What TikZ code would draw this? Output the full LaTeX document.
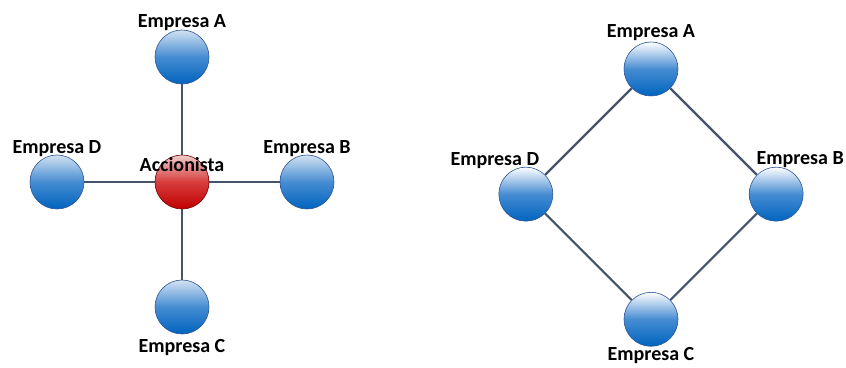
\documentclass[tikz,border=0pt]{standalone}
\usepackage{fontspec}
\setmainfont{Carlito}
\usepackage{tikz}
\usetikzlibrary{positioning,backgrounds,shapes}
\definecolor{lineagris}{RGB}{68,84,106}
\definecolor{bordeazul}{RGB}{47,85,151}
\definecolor{azulclaro}{RGB}{210,226,242}
\definecolor{azulmedio}{RGB}{70,140,210}
\definecolor{azul}{RGB}{0,100,190}
\definecolor{rojoclaro}{RGB}{240,205,205}
\definecolor{rojomedio}{RGB}{215,60,60}
\definecolor{rojo}{RGB}{192,0,0}

\begin{document}
\begin{tikzpicture}[node distance=125pt,
                    every label/.style={inner sep=0pt, font=\bfseries\fontsize{20}{24}\selectfont}]
  \tikzstyle{bola}=[circle, minimum size=54pt, inner sep=0pt, draw=bordeazul, line width=0.6pt,
                    top color=azulclaro, bottom color=azul, middle color=azulmedio]
  \tikzstyle{bolad}=[bola, shading angle=45, top color=white, bottom color=azul, middle color=azulmedio]
  \tikzstyle{socio}=[bola, draw=rojo!60!black, top color=rojoclaro, bottom color=rojo, middle color=rojomedio]
  \tikzstyle{enlace}=[draw=lineagris, line width=2.2pt]

  \useasboundingbox (0,0) rectangle (846pt,367pt);

  % accionista comun
  \node[socio] (Acc) at (182pt,185pt) {};
  \node[bola, label={[label distance=-1pt]above:Empresa A}] (EA) [above of = Acc] {};
  \node[bola, label={[label distance=-2pt]above:Empresa B}] (EB) [right of = Acc] {};
  \node[bola, label={[label distance=5pt]below:Empresa C}]  (EC) [below of = Acc] {};
  \node[bola, label={[label distance=-2pt]above:Empresa D}] (ED) [left of  = Acc] {};
  \node[inner sep=0pt, font=\bfseries\fontsize{20}{24}\selectfont] (AccLbl) at ([yshift=17pt]Acc.center) {Accionista};

  % participaciones cruzadas
  \node[bolad, label={[label distance=1pt]above:Empresa A}] (RA) at (651pt,298pt) {};
  \node[bolad, label={[label distance=-2pt, xshift=-31pt]above:Empresa D}] (RD) [below left of  = RA, node distance=177pt] {};
  \node[bolad, label={[label distance=-1pt, xshift=24pt]above:Empresa B}]  (RB) [below right of = RA, node distance=177pt] {};
  \node[bolad, label={[label distance=1pt]below:Empresa C}] (RC) [below right of = RD, node distance=177pt] {};

  \begin{scope}[on background layer]
    \path (Acc) edge[enlace] (EA)
                edge[enlace] (EB)
                edge[enlace] (EC)
                edge[enlace] (ED);
    \path (RA) edge[enlace] (RB)
               edge[enlace] (RD)
          (RC) edge[enlace] (RB)
               edge[enlace] (RD);
  \end{scope}

\end{tikzpicture}
\end{document}
